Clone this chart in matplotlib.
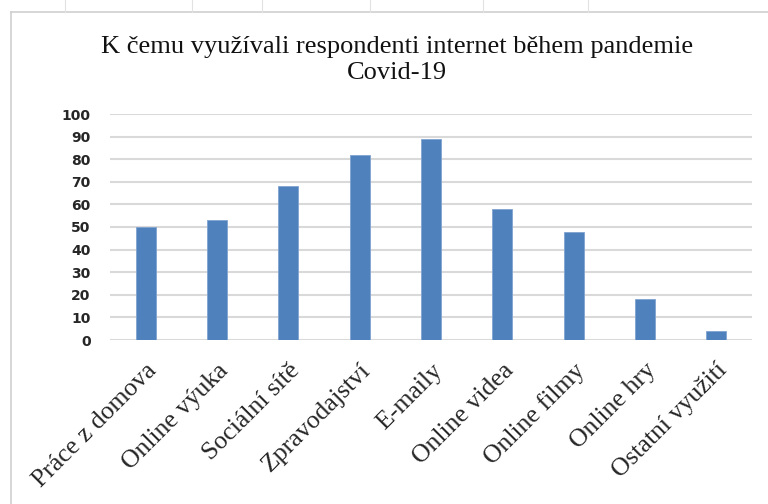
import matplotlib.pyplot as plt
from matplotlib.lines import Line2D

categories = ["Práce z domova", "Online výuka", "Sociální sítě", "Zpravodajství",
              "E-maily", "Online videa", "Online filmy", "Online hry", "Ostatní využití"]
values = [50, 53, 68, 82, 89, 58, 48, 18, 4]
yticks = list(range(0, 101, 10))
title = "K čemu využívali respondenti internet během pandemie\nCovid-19"

fig = plt.figure(figsize=(7.68, 5.04), dpi=100)
ax = fig.add_axes([110 / 768, 164 / 504, 642 / 768, 226 / 504])

x = range(len(categories))
ax.bar(x, values, width=0.28, color="#4f81bd", edgecolor="#7fa3d0", linewidth=0.6, zorder=3)

ax.set_xlim(-0.5, len(categories) - 0.5)
ax.set_ylim(0, 100)
ax.set_yticks(yticks)
ax.set_yticklabels([str(t) for t in yticks], fontsize=10, fontweight="bold",
                   family="DejaVu Sans", color="#262626")
ax.set_xticks(list(x))
ax.set_xticklabels(categories, rotation=45, ha="right", rotation_mode="anchor",
                   family="Liberation Serif", fontsize=18.5, color="#262626")
ax.tick_params(axis="both", length=0)
ax.tick_params(axis="y", pad=14)
ax.tick_params(axis="x", pad=14)
ax.grid(axis="y", color="#d9d9d9", linewidth=1.5, zorder=0)
for s in ax.spines.values():
    s.set_visible(False)

fig.text(0.517, 1 - 60 / 504, title, ha="center", va="center", family="Liberation Serif",
         fontsize=19, linespacing=1.2, color="#111111")

# chart frame and spreadsheet cell lines
fig.add_artist(Line2D([11 / 768, 1], [1 - 12 / 504] * 2, color="#cfcfcf", lw=1.2))
fig.add_artist(Line2D([11 / 768] * 2, [0, 1 - 12 / 504], color="#cfcfcf", lw=1.2))
for px in [65, 192, 262, 370, 483, 588]:
    fig.add_artist(Line2D([px / 768] * 2, [1 - 12 / 504, 1], color="#e2e2e2", lw=0.8))

fig.savefig("out.png", dpi=100)
